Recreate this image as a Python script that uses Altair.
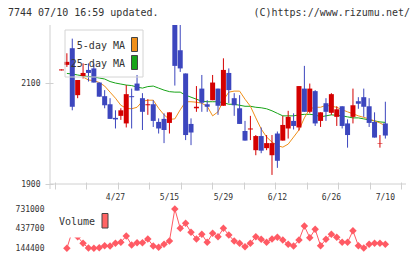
import altair as alt
import pandas as pd

# ---- daily prices (61 sessions, 4/13 .. 7/10) ----
open_ = [2125, 2136, 2169, 2076, 2114, 2126, 2129, 2101, 2074, 2058,
         2031, 2035, 2020, 2074, 2099, 2070, 2056, 2058, 2023, 2029,
         2021, 2225, 2165, 2119, 2019, 2050, 2089, 2058, 2066, 2089,
         2055, 2120, 2070, 2050, 2005, 2008, 1967, 1995, 1971, 1957,
         2000, 1986, 2010, 2025, 2012, 2089, 2043, 2084, 2025, 2060,
         2041, 2033, 2054, 2020, 2033, 2064, 2072, 2054, 2023, 1980, 2020]
high = [2127, 2159, 2188, 2106, 2139, 2139, 2139, 2101, 2086, 2070,
        2046, 2050, 2096, 2089, 2116, 2080, 2068, 2066, 2030, 2040,
        2042, 2240, 2225, 2119, 2030, 2094, 2116, 2066, 2116, 2089,
        2149, 2129, 2080, 2076, 2025, 2035, 1997, 2012, 1997, 1997,
        2004, 2035, 2045, 2040, 2094, 2134, 2099, 2086, 2042, 2070,
        2080, 2054, 2054, 2028, 2089, 2072, 2089, 2070, 2042, 1997, 2063]
low = [2125, 2132, 2046, 2070, 2109, 2103, 2101, 2073, 2050, 2029,
       2010, 2027, 2012, 2010, 2085, 2007, 2037, 2013, 2000, 1981,
       2000, 2095, 2122, 1987, 1977, 2043, 2043, 2043, 2066, 2037,
       2055, 2060, 2035, 2019, 1986, 1987, 1957, 1961, 1967, 1918,
       1932, 1986, 1990, 2008, 2006, 2043, 2040, 2015, 2013, 2025,
       2037, 2015, 2010, 1972, 2020, 2049, 2033, 2013, 1992, 1972, 1990]
close = [2127, 2142, 2053, 2106, 2120, 2120, 2101, 2073, 2056, 2029,
         2028, 2046, 2078, 2072, 2085, 2043, 2058, 2025, 2010, 2007,
         2042, 2134, 2129, 1997, 2002, 2053, 2061, 2053, 2101, 2055,
         2126, 2086, 2056, 2019, 1986, 2010, 1995, 1966, 1981, 1981,
         1946, 2017, 2033, 2015, 2094, 2043, 2089, 2020, 2042, 2043,
         2078, 2048, 2015, 1997, 2056, 2059, 2053, 2021, 1992, 1981, 1996]

# ---- moving averages ----
ma5 = [None, None, None, None, 2112, 2106, 2105, 2101, 2094, 2082,
       2070, 2056, 2050, 2049, 2052, 2064, 2066, 2066, 2050, 2037,
       2028, 2029, 2047, 2063, 2063, 2062, 2060, 2054, 2035, 2043,
       2066, 2082, 2084, 2084, 2068, 2054, 2031, 2009, 1993, 1983,
       1976, 1973, 1979, 1993, 2007, 2031, 2049, 2052, 2052, 2056,
       2054, 2052, 2047, 2043, 2039, 2035, 2032, 2029, 2025, 2021, 2015]
ma25 = [None, 2119, 2118, 2116, 2114, 2113, 2112, 2110, 2108, 2103,
        2100, 2098, 2096, 2095, 2092, 2090, 2093, 2094, 2090, 2086,
        2083, 2082, 2082, 2076, 2072, 2068, 2064, 2063, 2063, 2063,
        2061, 2058, 2058, 2056, 2054, 2054, 2052, 2051, 2049, 2045,
        2040, 2035, 2035, 2035, 2037, 2038, 2038, 2037, 2033, 2035,
        2037, 2036, 2035, 2033, 2031, 2031, 2029, 2027, 2025, 2023, 2022]

# ---- volume ----
volume = [None, 144400, 400000, 318000, 218800, 148000, 144400, 153300, 183100, 178600,
          218800, 233700, 327500, 193500, 227800, 227800, 282900, 178600, 159300, 203900,
          253100, 731000, 442200, 516600, 382600, 282900, 352800, 233700, 367700, 317100,
          442200, 342400, 253100, 218800, 168200, 218800, 317100, 278400, 233700, 282900,
          308200, 268000, 203900, 178600, 268000, 476400, 302200, 427300, 183100, 278400,
          352800, 308200, 233700, 233700, 406400, 183100, 150000, 203900, 218800, 218800, 203900]

date_labels = ["4/27", "5/15", "5/29", "6/12", "6/26", "7/10"]
date_label_idx = [10, 20, 30, 40, 50, 60]

price_ticks = [1900, 2100]
volume_ticks = [144400, 437700, 731000]

UP = "#d40000"
DOWN = "#3c46be"
MA5_C = "#f0901a"
MA25_C = "#18a418"
VOL_C = "#ff5a64"
AXIS_C = "#d0d0d0"
TEXT_C = "#333333"
MONO = "DejaVu Sans Mono"

W, H = 356, 224
X_MIN, X_MAX = -1.2, 62.9
x_tick_vals = [X_MIN + k * (X_MAX - X_MIN) / 11 for k in range(12)]

df = pd.DataFrame({
    "idx": list(range(len(close))),
    "open": open_, "high": high, "low": low, "close": close,
    "ma5": ma5, "ma25": ma25, "volume": volume,
})

xs = alt.Scale(domain=[X_MIN, X_MAX], nice=False, zero=False)
ps = alt.Scale(domain=[1900, 2215], range=[159, 0], nice=False, zero=False)
vs = alt.Scale(domain=[144400, 731000], range=[223.3, 184], nice=False, zero=False)

x_axis = alt.Axis(values=x_tick_vals, labels=False, domain=False, grid=False,
                  tickSize=7, tickColor=AXIS_C, offset=-67, title=None)
p_axis = alt.Axis(values=price_ticks, orient="left", domain=False, grid=False, format="d",
                  tickSize=8, tickColor=AXIS_C, offset=-3, labelPadding=5,
                  labelFont=MONO, labelFontSize=8, labelColor=TEXT_C, title=None)
v_axis_def = alt.Axis(values=volume_ticks, orient="left", domain=False, grid=False, format="d",
                      ticks=False, labelPadding=6, labelFont=MONO, labelFontSize=8,
                      labelColor=TEXT_C, title=None)

X = alt.X("idx:Q", scale=xs, axis=x_axis)

base = alt.Chart(df)
candle_color = alt.condition("datum.close >= datum.open", alt.value(UP), alt.value(DOWN))

ma25_line = base.mark_line(color=MA25_C, strokeWidth=1, clip=True).encode(
    x=X, y=alt.Y("ma25:Q", scale=ps, axis=p_axis))
ma5_line = base.mark_line(color=MA5_C, strokeWidth=1, clip=True).encode(
    x=X, y=alt.Y("ma5:Q", scale=ps, axis=p_axis))
wick = base.mark_rule(strokeWidth=1, clip=True).encode(
    x=X, y=alt.Y("low:Q", scale=ps, axis=p_axis), y2="high:Q", color=candle_color)
body = base.mark_bar(size=5, clip=True).encode(
    x=X, y=alt.Y("open:Q", scale=ps, axis=p_axis), y2="close:Q", color=candle_color)
price = alt.layer(ma25_line, ma5_line, wick, body)

vol_line = base.mark_line(color=VOL_C, strokeWidth=1).encode(
    x=X, y=alt.Y("volume:Q", scale=vs, axis=v_axis_def))
vol_pts = base.mark_point(shape="diamond", filled=True, size=56, color=VOL_C, opacity=1).encode(
    x=X, y=alt.Y("volume:Q", scale=vs, axis=v_axis_def))
vol = alt.layer(vol_line, vol_pts)

# axis lines
one = pd.DataFrame({"k": [0]})
v_axis_line = alt.Chart(one).mark_rule(color=AXIS_C, strokeWidth=1).encode(
    x=alt.value(0), y=alt.value(0), y2=alt.value(164))
h_axis_line = alt.Chart(one).mark_rule(color=AXIS_C, strokeWidth=1).encode(
    x=alt.value(0), x2=alt.value(W), y=alt.value(159))

# date labels under the price panel
dl = pd.DataFrame({"idx": date_label_idx, "label": date_labels})
dates = alt.Chart(dl).mark_text(font=MONO, fontSize=8, color=TEXT_C, baseline="middle").encode(
    x=X, y=alt.value(173), text="label:N")

# moving-average legend
leg_box = alt.Chart(one).mark_rect(filled=False, stroke="#d4d4d4", strokeWidth=1).encode(
    x=alt.value(15), x2=alt.value(93), y=alt.value(5), y2=alt.value(52))
leg5 = alt.Chart(pd.DataFrame({"t": ["5-day MA"]})).mark_text(
    font=MONO, fontSize=10, color=TEXT_C, align="right", baseline="middle").encode(
    x=alt.value(75), y=alt.value(21), text="t:N")
leg25 = alt.Chart(pd.DataFrame({"t": ["25-day MA"]})).mark_text(
    font=MONO, fontSize=10, color=TEXT_C, align="right", baseline="middle").encode(
    x=alt.value(75), y=alt.value(38.5), text="t:N")
sw5 = alt.Chart(one).mark_rect(fill=MA5_C, stroke="#444", strokeWidth=1).encode(
    x=alt.value(81.5), x2=alt.value(87.5), y=alt.value(12.5), y2=alt.value(26.5))
sw25 = alt.Chart(one).mark_rect(fill=MA25_C, stroke="#444", strokeWidth=1).encode(
    x=alt.value(81.5), x2=alt.value(87.5), y=alt.value(30.5), y2=alt.value(44.5))

# volume legend (opaque white panel behind the label)
vol_bg = alt.Chart(one).mark_rect(fill="white", strokeWidth=0).encode(
    x=alt.value(5), x2=alt.value(62), y=alt.value(178), y2=alt.value(212.5))
vol_txt = alt.Chart(pd.DataFrame({"t": ["Volume"]})).mark_text(
    font=MONO, fontSize=10, color=TEXT_C, align="right", baseline="middle").encode(
    x=alt.value(45), y=alt.value(197), text="t:N")
vol_sw = alt.Chart(one).mark_rect(fill="#ff6464", stroke="#444", strokeWidth=1).encode(
    x=alt.value(52), x2=alt.value(58), y=alt.value(188.5), y2=alt.value(203))

# header
hdr_l = alt.Chart(pd.DataFrame({"t": ["7744 07/10 16:59 updated."]})).mark_text(
    font=MONO, fontSize=10, color=TEXT_C, align="left", baseline="middle").encode(
    x=alt.value(-42), y=alt.value(-12.5), text="t:N")
hdr_r = alt.Chart(pd.DataFrame({"t": ["(C)https://www.rizumu.net/"]})).mark_text(
    font=MONO, fontSize=10, color=TEXT_C, align="right", baseline="middle").encode(
    x=alt.value(360), y=alt.value(-12.5), text="t:N")

chart = alt.layer(
    v_axis_line, h_axis_line, price, vol, dates, leg_box, leg5, leg25, sw5, sw25,
    vol_bg, vol_txt, vol_sw, hdr_l, hdr_r
).resolve_scale(y="independent").properties(
    width=W, height=H,
    autosize=alt.AutoSizeParams(type="none"),
    padding={"left": 50, "top": 25, "right": 14, "bottom": 10},
).configure_view(strokeWidth=0)

chart.save("out.html", embed_options={"renderer": "svg", "actions": False})
